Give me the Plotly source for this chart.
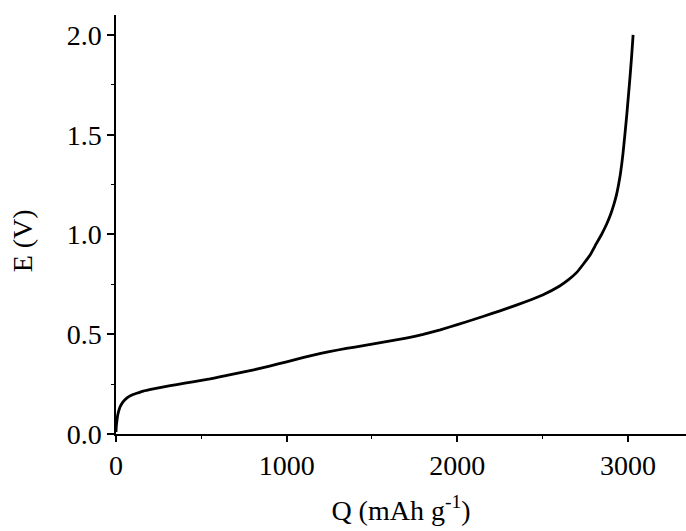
import plotly.graph_objects as go

# Curve (Q in mAh/g, E in V)
q_mah_g = [0, 1, 3, 8, 14, 23, 40, 63, 90, 121, 160, 219, 280, 356, 450, 551,
           600, 700, 800, 900, 1000, 1100, 1200, 1300, 1400, 1500, 1600, 1700,
           1800, 1900, 2000, 2100, 2200, 2300, 2400, 2500, 2600, 2650, 2700, 2739,
           2780, 2812, 2845, 2874, 2898, 2917, 2933, 2945, 2955, 2963, 2970, 2982,
           2993, 3003, 3013, 3022, 3030]
e_volt = [0.01, 0.03, 0.05, 0.085, 0.11, 0.134, 0.16, 0.18, 0.194, 0.204, 0.215,
          0.226, 0.236, 0.248, 0.261, 0.276,
          0.285, 0.302, 0.32, 0.34, 0.362, 0.384, 0.404, 0.421, 0.436, 0.45, 0.465,
          0.481, 0.499, 0.522, 0.548, 0.575, 0.603, 0.632, 0.663, 0.697, 0.742,
          0.772, 0.81, 0.852,
          0.90, 0.95, 1.00, 1.05, 1.10, 1.15, 1.20, 1.25, 1.30, 1.35, 1.40, 1.50,
          1.60, 1.70, 1.80, 1.90, 2.00]

x_ticks = [0, 1000, 2000, 3000]
x_tick_labels = ["0", "1000", "2000", "3000"]
y_ticks = [0.0, 0.5, 1.0, 1.5, 2.0]
y_tick_labels = ["0.0", "0.5", "1.0", "1.5", "2.0"]

font_family = "Liberation Serif, Times New Roman, serif"
fs = 28

fig = go.Figure()
fig.add_trace(go.Scatter(x=q_mah_g, y=e_volt, mode="lines",
                         line=dict(color="black", width=2.8, shape="spline", smoothing=0.3),
                         showlegend=False, hoverinfo="skip"))

fig.update_layout(
    width=686, height=531,
    margin=dict(l=116, r=0, t=15, b=97),
    paper_bgcolor="white", plot_bgcolor="white",
    font=dict(family=font_family, size=fs, color="black"),
)
fig.update_xaxes(
    range=[0, 3340], tickvals=x_ticks, ticktext=x_tick_labels,
    showgrid=False, zeroline=False, showline=True, linecolor="black", linewidth=1.5,
    ticks="outside", ticklen=6, tickwidth=1.5, tickcolor="black",
    minor=dict(ticks="outside", ticklen=3, tickwidth=1.2, tickcolor="black", dtick=500, showgrid=False),
    tickfont=dict(family=font_family, size=fs),
    title=dict(text="Q (mAh g<sup>-1</sup>)", font=dict(family=font_family, size=fs), standoff=20),
    automargin=False,
)
fig.update_yaxes(
    range=[0, 2.1], tickvals=y_ticks, ticktext=y_tick_labels,
    showgrid=False, zeroline=False, showline=True, linecolor="black", linewidth=1.5,
    ticks="outside", ticklen=7, tickwidth=1.5, tickcolor="black",
    minor=dict(ticks="outside", ticklen=3, tickwidth=1.2, tickcolor="black", dtick=0.25, showgrid=False),
    tickfont=dict(family=font_family, size=fs),
    automargin=False,
)
# y-axis title placed as a rotated annotation (sits slightly below centre in the reference)
fig.add_annotation(text="E (V)", xref="paper", yref="paper", x=-0.164, y=0.461,
                   xanchor="center", yanchor="middle", textangle=-90, showarrow=False,
                   font=dict(family=font_family, size=fs, color="black"))

fig.write_html("out.html", config={"displayModeBar": False},
               post_script="document.body.style.margin='0';document.body.style.overflow='hidden';")
